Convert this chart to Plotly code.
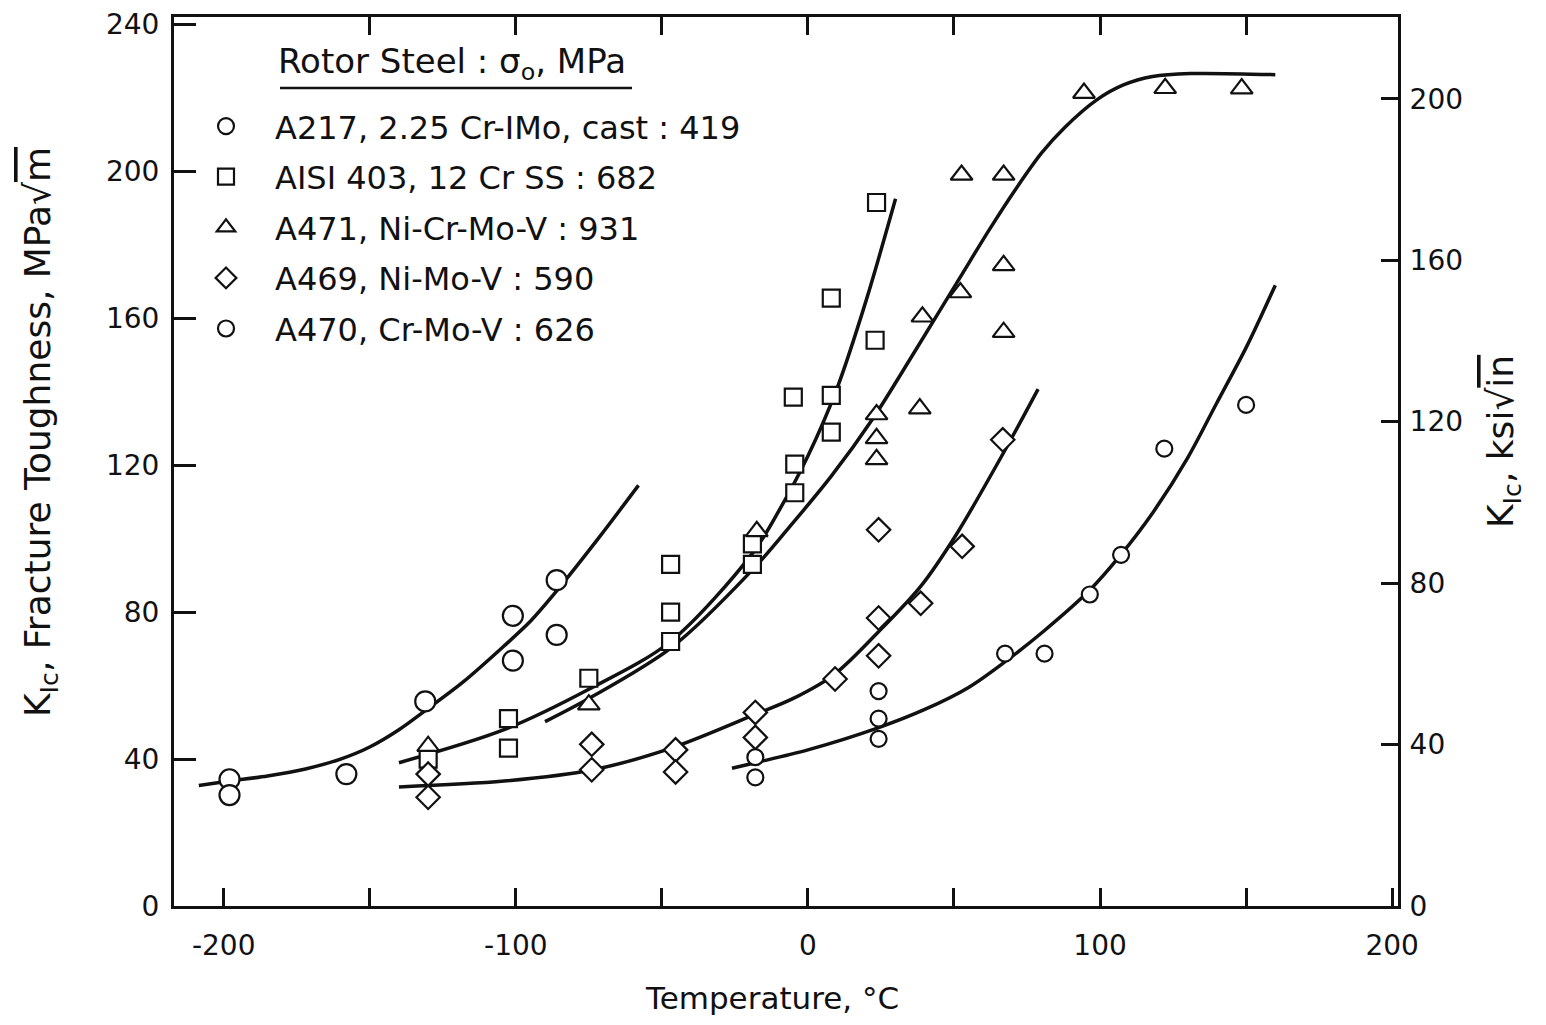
import plotly.graph_objects as go

FONT = "DejaVu Sans"
INK = "#111111"

# ---- data (temperature degC, K_Ic MPa*sqrt(m)) ----
a217_t = [-198, -198, -158, -131, -101, -101, -86, -86]
a217_k = [34.5, 30.2, 35.9, 55.7, 79.0, 66.8, 88.7, 73.8]
a217_fit_t = [-208.5, -198, -185, -172, -160, -150, -140, -131, -118, -104, -95, -87, -72, -58]
a217_fit_k = [32.8, 34.0, 35.4, 37.3, 40.0, 43.3, 48.0, 53.2, 61.0, 70.8, 77.5, 84.8, 99.8, 114.5]

aisi_t = [-130, -102.5, -102.5, -75, -47, -47, -47, -19, -19, -4.5, -4.5, -5, 8, 8, 8, 23, 23.5]
aisi_k = [40.0, 51.0, 43.0, 62.0, 72.0, 80.0, 93.0, 93.0, 98.6, 112.5, 120.3, 138.5, 129.0, 139.0, 165.5, 154.0, 191.5]
aisi_fit_t = [-140, -104, -75, -47, -19, -10, 0, 10, 20, 30]
aisi_fit_k = [39.0, 48.0, 59.0, 72.0, 96.0, 107.5, 122.5, 141.0, 165.0, 192.5]

a471_t = [-130, -75, -17.5, 23.5, 23.5, 23.5, 38.3, 39.2, 52.2, 52.6, 67, 67, 67, 94.5, 122.3, 148.5]
a471_k = [43.5, 54.8, 102.0, 133.8, 127.3, 121.6, 135.4, 160.4, 167.0, 199.0, 174.4, 156.2, 199.0, 221.3, 222.6, 222.5]
a471_fit_t = [-90, -75, -46.5, -19, -6.5, 8, 22.5, 37, 52, 62, 71, 80, 88, 99, 108, 118, 131, 160]
a471_fit_k = [50.2, 56.5, 70.5, 91.5, 103.0, 117.0, 133.0, 151.5, 171.0, 184.0, 195.0, 205.0, 212.0, 219.5, 223.5, 225.8, 226.6, 226.3]

a469_t = [-130, -130, -74, -74, -45.3, -45.3, -18, -18, 9.3, 24.2, 24.2, 24.2, 38.6, 52.8, 66.7]
a469_k = [35.9, 29.6, 44.0, 37.1, 42.5, 36.5, 52.7, 45.9, 61.8, 78.4, 68.1, 102.4, 82.4, 97.9, 126.9]
a469_fit_t = [-140, -104, -74, -46, -18.5, -5, 9, 24, 38.6, 50.7, 66.7, 78.8]
a469_fit_k = [32.4, 34.0, 37.0, 43.2, 52.0, 56.5, 63.0, 74.5, 87.0, 101.0, 123.0, 140.7]

a470_t = [-18, -18, 24.2, 24.2, 24.2, 67.5, 81, 96.5, 107.2, 122, 150]
a470_k = [40.5, 35.0, 58.5, 51.0, 45.5, 68.7, 68.7, 84.8, 95.6, 124.5, 136.4]
a470_fit_t = [-26, -18, 0, 24, 40, 55, 67.5, 81, 96.5, 107, 118, 130, 140, 150, 160]
a470_fit_k = [37.5, 39.0, 42.5, 48.5, 53.5, 59.5, 66.5, 75.0, 86.0, 95.5, 107.0, 122.0, 137.0, 152.0, 169.0]

series_names = [
    "A217, 2.25 Cr-IMo, cast : 419",
    "AISI 403, 12 Cr SS : 682",
    "A471, Ni-Cr-Mo-V : 931",
    "A469, Ni-Mo-V : 590",
    "A470, Cr-Mo-V : 626",
]

x_ticks = [-200, -150, -100, -50, 0, 50, 100, 150, 200]
x_ticktext = ["-200", "", "-100", "", "0", "", "100", "", "200"]
top_ticks = [-150, -100, -50, 0, 50, 100, 150]
y_ticks = [0, 40, 80, 120, 160, 200, 240]
ksi_ticks = [0, 40, 80, 120, 160, 200]
MPA_PER_KSI = 1.0988
X_RANGE = [-217, 202]
Y_MAX = 242

# plot-area edges on the page (the page body adds an 8 px offset)
L, R, T, B = 174, 1398, 17, 906


def px(xp):
    return (xp - L) / (R - L)


def py(yp):
    return (B - yp) / (B - T)


fig = go.Figure()

fits = [(a217_fit_t, a217_fit_k), (aisi_fit_t, aisi_fit_k), (a471_fit_t, a471_fit_k),
        (a469_fit_t, a469_fit_k), (a470_fit_t, a470_fit_k)]
for ft, fk in fits:
    fig.add_trace(go.Scatter(x=ft, y=fk, mode="lines", showlegend=False,
                             line=dict(color=INK, width=3.5, shape="spline", smoothing=0.9),
                             hoverinfo="skip"))

pts = [
    (a217_t, a217_k, "circle", 20),
    (aisi_t, aisi_k, "square", 17),
    (a471_t, a471_k, "triangle-up", 19),
    (a469_t, a469_k, "diamond", 18),
    (a470_t, a470_k, "circle", 16),
]
for i, ((t, k, sym, sz), name) in enumerate(zip(pts, series_names)):
    fig.add_trace(go.Scatter(x=t, y=k, mode="markers", name=name, legendgroup=f"g{i}",
                             marker=dict(symbol=sym, size=sz, color="white",
                                         line=dict(color=INK, width=2.2))))

# invisible traces to activate the right (ksi) axis and the top tick axis
fig.add_trace(go.Scatter(x=[0], y=[0], yaxis="y2", mode="markers", showlegend=False,
                         marker=dict(opacity=0), hoverinfo="skip"))
fig.add_trace(go.Scatter(x=[0], y=[0], xaxis="x2", mode="markers", showlegend=False,
                         marker=dict(opacity=0), hoverinfo="skip"))

axis_common = dict(showgrid=False, zeroline=False, showline=True, linecolor=INK, linewidth=3,
                   ticks="inside", tickcolor=INK, tickwidth=2.5, automargin=False,
                   tickfont=dict(family=FONT, size=28, color=INK))

fig.update_layout(
    width=1546, height=1025,
    margin=dict(l=166, r=156, t=9, b=127, autoexpand=False),
    paper_bgcolor="white", plot_bgcolor="white",
    font=dict(family=FONT, color=INK),
    xaxis=dict(range=X_RANGE, tickvals=x_ticks, ticktext=x_ticktext, ticklen=18,
               mirror=True, ticklabelstandoff=12, **axis_common),
    xaxis2=dict(range=X_RANGE, tickvals=top_ticks, ticklen=18, overlaying="x", side="top",
                showticklabels=False, **axis_common),
    yaxis=dict(range=[0, Y_MAX], tickvals=y_ticks, ticklen=22, mirror=True,
               ticklabelstandoff=6, **axis_common),
    yaxis2=dict(range=[0, Y_MAX / MPA_PER_KSI], tickvals=ksi_ticks, ticklen=17,
                overlaying="y", side="right", ticklabelstandoff=3, **axis_common),
    legend=dict(x=px(177), y=0.908, xanchor="left", yanchor="top", bgcolor="rgba(0,0,0,0)",
                font=dict(family=FONT, size=32, color=INK), itemwidth=88,
                tracegroupgap=6, itemsizing="trace"),
    showlegend=True,
)

fig.add_annotation(x=px(276), y=py(63), xref="paper", yref="paper", xanchor="left", yanchor="middle",
                   text="Rotor Steel : σ<sub>o</sub>, MPa", showarrow=False,
                   font=dict(family=FONT, size=34, color=INK))
fig.add_shape(type="line", xref="paper", yref="paper", x0=px(280), x1=px(632), y0=py(88), y1=py(88),
              line=dict(color=INK, width=2.5))

fig.add_annotation(x=px(772), y=py(998), xref="paper", yref="paper", xanchor="center", yanchor="middle",
                   text="Temperature, °C", showarrow=False,
                   font=dict(family=FONT, size=31, color=INK))
fig.add_annotation(x=px(40), y=py(432), xref="paper", yref="paper", xanchor="center", yanchor="middle",
                   textangle=-90, showarrow=False,
                   text="K<sub>Ic</sub>, Fracture Toughness, MPa√<span style='text-decoration:overline'>m</span>",
                   font=dict(family=FONT, size=36, color=INK))
fig.add_annotation(x=px(1503), y=py(442), xref="paper", yref="paper", xanchor="center", yanchor="middle",
                   textangle=-90, showarrow=False,
                   text="K<sub>Ic</sub>, ksi√<span style='text-decoration:overline'>in</span>",
                   font=dict(family=FONT, size=36, color=INK))

fig.write_html("out.html")
